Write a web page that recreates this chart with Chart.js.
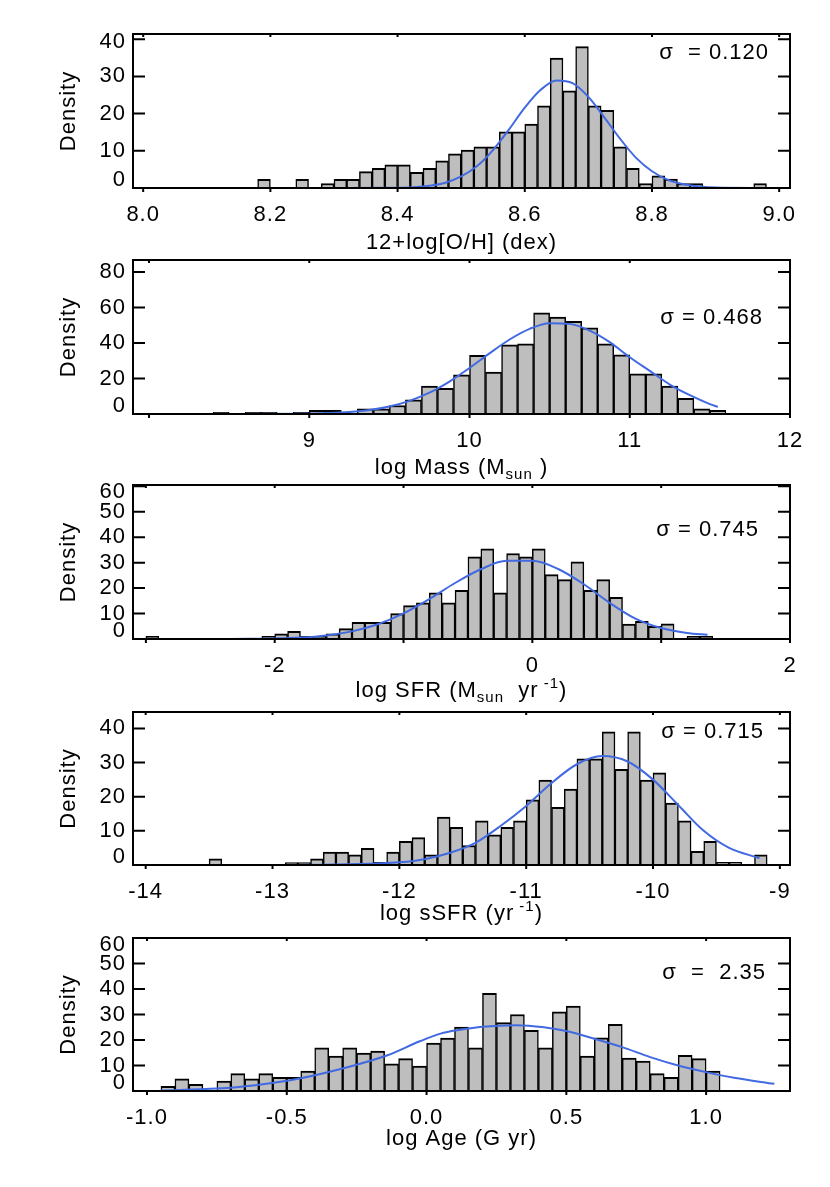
<!DOCTYPE html>
<html><head><meta charset="utf-8">
<script src="https://cdn.jsdelivr.net/npm/chart.js@4.4.0/dist/chart.umd.min.js"></script>
<style>
html,body{margin:0;padding:0;background:#fff;}
#wrap{position:relative;width:830px;height:1187px;overflow:hidden;background:#fff;}
canvas{position:absolute;left:0;}
</style></head><body><div id="wrap"></div>
<script>
// ---------- Panel 1: 12+log[O/H] (bin width 0.02, bin centres) ----------
const ohBins    = [8.19, 8.25, 8.29, 8.31, 8.33, 8.35, 8.37, 8.39, 8.41, 8.43, 8.45, 8.47, 8.49, 8.51, 8.53, 8.55, 8.57, 8.59, 8.61, 8.63, 8.65, 8.67, 8.69, 8.71, 8.73, 8.75, 8.77, 8.79, 8.81, 8.83, 8.85, 8.87, 8.97];
const ohDensity = [2.3, 2.3, 1.2, 2.3, 2.3, 4.4, 5.3, 6.2, 6.2, 4.2, 5.3, 7.3, 9.2, 10.2, 11.1, 11.1, 15.1, 15.1, 17.2, 22.1, 34.9, 26.1, 38.0, 22.1, 20.9, 11.1, 5.3, 1.2, 3.3, 2.4, 1.2, 1.2, 1.2];
const ohFitX    = [8.00, 8.30, 8.40, 8.425, 8.45, 8.475, 8.50, 8.525, 8.55, 8.575, 8.60, 8.625, 8.65, 8.675, 8.70, 8.725, 8.75, 8.775, 8.80, 8.825, 8.85, 8.875, 8.90, 8.98];
const ohFitY    = [0, 0, 0.07, 0.2, 0.6, 1.4, 3.1, 5.9, 10.2, 15.7, 21.6, 26.4, 28.9, 28.2, 24.5, 19.0, 13.2, 8.1, 4.5, 2.2, 1.0, 0.4, 0.13, 0];
const ohXTicks  = [8.0, 8.2, 8.4, 8.6, 8.8, 9.0];
const ohYTicks  = [0, 10, 20, 30, 40];

// ---------- Panel 2: log Mass (bin width 0.1) ----------
const massBins    = [8.45, 8.65, 8.75, 8.95, 9.05, 9.15, 9.35, 9.45, 9.55, 9.65, 9.75, 9.85, 9.95, 10.05, 10.15, 10.25, 10.35, 10.45, 10.55, 10.65, 10.75, 10.85, 10.95, 11.05, 11.15, 11.25, 11.35, 11.45, 11.55];
const massDensity = [1.0, 1.0, 1.0, 1.0, 2.0, 2.0, 2.9, 2.9, 4.8, 8.0, 15.7, 14.5, 22.1, 33.0, 23.6, 39.0, 39.5, 57.0, 54.6, 52.3, 48.6, 39.5, 33.3, 22.6, 22.6, 15.7, 8.9, 2.9, 2.0];
const massFitX    = [8.05, 8.5, 9.0, 9.125, 9.25, 9.375, 9.5, 9.625, 9.75, 9.875, 10.0, 10.125, 10.25, 10.375, 10.5, 10.625, 10.75, 10.875, 11.0, 11.125, 11.25, 11.375, 11.5, 11.55];
const massFitY    = [0, 0.01, 0.2, 0.5, 1.1, 2.2, 4.2, 7.4, 12.0, 18.3, 25.9, 34.2, 42.0, 48.0, 51.2, 50.8, 47.0, 40.5, 32.0, 24.3, 16.6, 10.6, 5.6, 4.0];
const massXTicks  = [8, 9, 10, 11, 12];
const massYTicks  = [0, 20, 40, 60, 80];

// ---------- Panel 3: log SFR (bin width 0.1) ----------
const sfrBins    = [-2.95, -2.05, -1.95, -1.85, -1.75, -1.65, -1.55, -1.45, -1.35, -1.25, -1.15, -1.05, -0.95, -0.85, -0.75, -0.65, -0.55, -0.45, -0.35, -0.25, -0.15, -0.05, 0.05, 0.15, 0.25, 0.35, 0.45, 0.55, 0.65, 0.75, 0.85, 0.95, 1.05, 1.25, 1.35];
const sfrDensity = [1.0, 1.0, 2.0, 3.0, 1.0, 1.0, 2.0, 4.1, 6.5, 6.5, 6.5, 10.0, 13.1, 14.2, 18.1, 14.2, 19.1, 32.3, 35.4, 18.1, 33.6, 32.3, 35.4, 25.3, 23.3, 30.3, 19.1, 23.3, 16.4, 5.9, 6.9, 5.0, 6.0, 1.0, 1.0];
const sfrFitX    = [-2.95, -2.6, -2.4, -2.2, -2.0, -1.8, -1.6, -1.4, -1.2, -1.0, -0.8, -0.6, -0.4, -0.2, 0.0, 0.2, 0.4, 0.6, 0.8, 1.0, 1.2, 1.36];
const sfrFitY    = [0, 0.01, 0.03, 0.07, 0.2, 0.56, 1.4, 3.0, 5.8, 10.1, 15.7, 22.0, 27.4, 30.7, 30.7, 27.5, 21.5, 14.2, 8.0, 4.3, 2.4, 1.7];
const sfrXTicks  = [-3, -2, -1, 0, 1, 2];
const sfrYTicks  = [0, 10, 20, 30, 40, 50, 60];

// ---------- Panel 4: log sSFR (bin width 0.1) ----------
const ssfrBins    = [-13.45, -12.85, -12.75, -12.65, -12.55, -12.45, -12.35, -12.25, -12.15, -12.05, -11.95, -11.85, -11.75, -11.65, -11.55, -11.45, -11.35, -11.25, -11.15, -11.05, -10.95, -10.85, -10.75, -10.65, -10.55, -10.45, -10.35, -10.25, -10.15, -10.05, -9.95, -9.85, -9.75, -9.65, -9.55, -9.45, -9.35, -9.15];
const ssfrDensity = [1.8, 0.7, 0.7, 1.8, 3.8, 3.8, 3.0, 4.9, 0.8, 3.8, 6.9, 8.0, 3.0, 14.0, 11.0, 5.7, 12.9, 8.8, 11.0, 12.9, 19.1, 24.9, 16.9, 22.2, 31.1, 31.1, 39.0, 28.0, 39.0, 24.9, 27.0, 18.1, 12.9, 4.0, 6.9, 0.8, 0.8, 3.0];
const ssfrFitX    = [-13.95, -12.8, -12.4, -12.0, -11.8, -11.6, -11.4, -11.2, -11.0, -10.8, -10.6, -10.4, -10.2, -10.0, -9.8, -9.6, -9.4, -9.16];
const ssfrFitY    = [0, 0, 0.2, 0.8, 1.7, 3.6, 6.5, 11.5, 17.3, 24.0, 29.5, 31.9, 30.3, 25.0, 17.5, 10.0, 5.0, 2.0];
const ssfrXTicks  = [-14, -13, -12, -11, -10, -9];
const ssfrYTicks  = [0, 10, 20, 30, 40];

// ---------- Panel 5: log Age (bin width 0.05) ----------
const ageBins    = [-0.925, -0.875, -0.825, -0.725, -0.675, -0.625, -0.575, -0.525, -0.475, -0.425, -0.375, -0.325, -0.275, -0.225, -0.175, -0.125, -0.075, -0.025, 0.025, 0.075, 0.125, 0.175, 0.225, 0.275, 0.325, 0.375, 0.425, 0.475, 0.525, 0.575, 0.625, 0.675, 0.725, 0.775, 0.825, 0.875, 0.925, 0.975, 1.025];
const ageDensity = [1.8, 4.8, 2.6, 3.9, 6.8, 4.8, 6.8, 5.4, 5.4, 7.8, 16.9, 13.7, 16.9, 14.9, 15.7, 10.7, 12.7, 9.8, 18.8, 20.8, 25.1, 16.9, 38.3, 26.8, 30.0, 23.8, 16.9, 31.0, 33.3, 13.7, 20.9, 26.1, 12.9, 11.7, 6.8, 5.4, 14.0, 12.7, 7.8];
const ageFitX    = [-0.95, -0.75, -0.62, -0.45, -0.26, -0.14, -0.024, 0.05, 0.12, 0.2, 0.32, 0.42, 0.5, 0.6, 0.7, 0.8, 0.9, 1.0, 1.1, 1.244];
const ageFitY    = [0.2, 1.0, 2.2, 5.0, 10.0, 14.0, 19.5, 22.5, 24.0, 25.2, 25.8, 25.0, 23.5, 20.5, 17.2, 13.3, 10.0, 7.4, 5.2, 2.8];
const ageXTicks  = [-1.0, -0.5, 0.0, 0.5, 1.0];
const ageYTicks  = [0, 10, 20, 30, 40, 50, 60];

// ---------- presentation ----------
const FONT = "'Liberation Sans', Arial, Helvetica, sans-serif";
const LS = '1px';
Chart.defaults.color = '#000';
Chart.defaults.font.family = FONT;

const panels = [
  {bins: ohBins, dens: ohDensity, fitX: ohFitX, fitY: ohFitY, xTicks: ohXTicks, yTicks: ohYTicks,
   xMin: 7.984, xMax: 9.017, yMax: 41.4, top: 34, h: 154, topShift: 3,
   xLabel: v => v.toFixed(1), title: [{t: '12+log[O/H] (dex)'}], titleBase: 61,
   sigma: 'σ  = 0.120', sigmaX: 769, sigmaY: 19},
  {bins: massBins, dens: massDensity, fitX: massFitX, fitY: massFitY, xTicks: massXTicks, yTicks: massYTicks,
   xMin: 7.9, xMax: 12.0, yMax: 86.8, top: 260, h: 154, topShift: 0,
   xLabel: v => (v === 8 ? '' : String(v)), title: [{t: 'log Mass (M'}, {t: 'sun', s: 'sub'}, {t: ' )'}], titleBase: 60,
   sigma: 'σ = 0.468', sigmaX: 763, sigmaY: 58},
  {bins: sfrBins, dens: sfrDensity, fitX: sfrFitX, fitY: sfrFitY, xTicks: sfrXTicks, yTicks: sfrYTicks,
   xMin: -3.1, xMax: 2.0, yMax: 60.5, top: 485, h: 154, topShift: 6,
   xLabel: v => (v % 2 === 0 ? String(v) : ''), title: [{t: 'log SFR (M'}, {t: 'sun', s: 'sub'}, {t: '  yr'}, {t: ' -1', s: 'sup'}, {t: ')'}], titleBase: 58,
   sigma: 'σ = 0.745', sigmaX: 759, sigmaY: 45},
  {bins: ssfrBins, dens: ssfrDensity, fitX: ssfrFitX, fitY: ssfrFitY, xTicks: ssfrXTicks, yTicks: ssfrYTicks,
   xMin: -14.1, xMax: -8.92, yMax: 44.8, top: 712, h: 153, topShift: 0,
   xLabel: v => String(v), title: [{t: 'log sSFR (yr'}, {t: ' -1', s: 'sup'}, {t: ')'}], titleBase: 55,
   sigma: 'σ = 0.715', sigmaX: 764, sigmaY: 20},
  {bins: ageBins, dens: ageDensity, fitX: ageFitX, fitY: ageFitY, xTicks: ageXTicks, yTicks: ageYTicks,
   xMin: -1.05, xMax: 1.3, yMax: 60, top: 938, h: 153, topShift: 7,
   xLabel: v => v.toFixed(1), title: [{t: 'log Age (G yr)'}], titleBase: 54,
   sigma: 'σ  =  2.35', sigmaX: 766, sigmaY: 35}
];

const CANVAS_H = 262, TOP_PAD = 34, XAXIS_H = 40, LEFT_PAD = 56, YAXIS_W = 77, RIGHT_PAD = 40;
const wrap = document.getElementById('wrap');

panels.forEach((p) => {
  const cv = document.createElement('canvas');
  cv.width = 830; cv.height = CANVAS_H;
  cv.style.width = '830px'; cv.style.height = CANVAS_H + 'px';
  cv.style.top = (p.top - TOP_PAD) + 'px';
  wrap.appendChild(cv);

  const frame = {
    id: 'frame',
    beforeDraw(chart) { chart.ctx.letterSpacing = LS; },
    afterDraw(chart) {
      const {ctx, chartArea: a, scales: {x, y}} = chart;
      ctx.save();
      ctx.letterSpacing = LS;
      ctx.strokeStyle = '#000';
      ctx.lineWidth = 2;
      ctx.strokeRect(a.left, a.top, a.right - a.left, a.bottom - a.top);
      ctx.beginPath();
      x.ticks.forEach(t => {
        const px = x.getPixelForValue(t.value);
        ctx.moveTo(px, a.bottom); ctx.lineTo(px, a.bottom + 4);
        ctx.moveTo(px, a.top); ctx.lineTo(px, a.top + 3);
      });
      y.ticks.forEach(t => {
        const py = y.getPixelForValue(t.value);
        ctx.moveTo(a.left, py); ctx.lineTo(a.left + 12, py);
        ctx.moveTo(a.right, py); ctx.lineTo(a.right - 12, py);
      });
      ctx.stroke();
      // sigma annotation
      ctx.fillStyle = '#000';
      ctx.font = '22px ' + FONT;
      ctx.textAlign = 'right';
      ctx.textBaseline = 'middle';
      ctx.fillText(p.sigma, p.sigmaX, a.top + p.sigmaY);
      // x-axis title with sub/superscripts
      const big = '22px ' + FONT, small = '15px ' + FONT;
      ctx.textAlign = 'left';
      ctx.textBaseline = 'alphabetic';
      let total = 0;
      p.title.forEach(seg => { ctx.font = seg.s ? small : big; total += ctx.measureText(seg.t).width; });
      let cx = (a.left + a.right) / 2 - total / 2;
      const base = a.bottom + p.titleBase;
      p.title.forEach(seg => {
        ctx.font = seg.s ? small : big;
        const dy = seg.s === 'sub' ? 5 : (seg.s === 'sup' ? -9 : 0);
        ctx.fillText(seg.t, cx, base + dy);
        cx += ctx.measureText(seg.t).width;
      });
      ctx.restore();
    }
  };

  const nY = p.yTicks.length;
  new Chart(cv, {
    type: 'bar',
    data: {
      datasets: [
        {
          type: 'line',
          data: p.fitX.map((v, i) => ({x: v, y: p.fitY[i]})),
          borderColor: '#4169e1',
          borderWidth: 2,
          pointRadius: 0,
          fill: false,
          cubicInterpolationMode: 'monotone',
          order: 1
        },
        {
          type: 'bar',
          data: p.bins.map((v, i) => ({x: v, y: p.dens[i]})),
          backgroundColor: '#bebebe',
          borderColor: '#000',
          borderWidth: {top: 2, left: 1.5, right: 1.5, bottom: 0},
          borderSkipped: 'start',
          barPercentage: 1,
          categoryPercentage: 1,
          order: 2
        }
      ]
    },
    options: {
      responsive: false,
      animation: false,
      devicePixelRatio: 1,
      layout: {padding: {left: LEFT_PAD, right: RIGHT_PAD, top: TOP_PAD, bottom: CANVAS_H - TOP_PAD - p.h - XAXIS_H}},
      plugins: {legend: {display: false}, tooltip: {enabled: false}},
      scales: {
        x: {
          type: 'linear', min: p.xMin, max: p.xMax, offset: false,
          grid: {display: false, drawTicks: false}, border: {display: false},
          afterBuildTicks: s => { s.ticks = p.xTicks.map(v => ({value: v})); },
          afterFit: s => { s.height = XAXIS_H; },
          ticks: {autoSkip: false, maxRotation: 0, minRotation: 0, padding: 14,
                  font: {size: 22, family: FONT}, callback: v => p.xLabel(v)}
        },
        y: {
          type: 'linear', min: 0, max: p.yMax,
          grid: {display: false, drawTicks: false}, border: {display: false},
          afterBuildTicks: s => { s.ticks = p.yTicks.map(v => ({value: v})); },
          afterFit: s => { s.width = YAXIS_W; },
          ticks: {
            autoSkip: false, padding: 7,
            font: c => {
              let lh = 1.2;
              if (c.index === 0) lh = '16px';
              else if (c.index === nY - 1 && p.topShift) lh = (2 * p.topShift) + 'px';
              return {size: 22, family: FONT, lineHeight: lh};
            },
            callback: (v, i) => {
              if (i === 0) return [String(v), ''];
              if (i === nY - 1 && p.topShift) return ['', String(v)];
              return String(v);
            }
          },
          title: {display: true, text: 'Density', font: {size: 22, family: FONT}, padding: {top: 0, bottom: 0}, color: '#000'}
        }
      }
    },
    plugins: [frame]
  });
});
</script>
</body></html>
